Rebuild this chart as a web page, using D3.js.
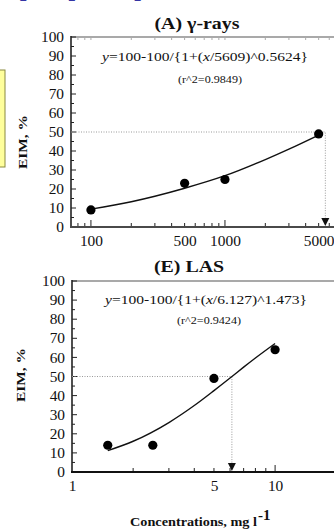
<!DOCTYPE html>
<html>
<head>
<meta charset="utf-8">
<script src="https://cdn.jsdelivr.net/npm/d3@7"></script>
<style>
  html, body { margin: 0; padding: 0; background: #fff; }
  svg { display: block; }
</style>
</head>
<body>
<svg id="chart" width="334" height="529"></svg>
<script>
// ---------- DATA ----------
// Panel A: gamma-rays
const topTitle = "(A) γ-rays";
const topX = [100, 500, 1000, 5000];
const topY = [9, 23, 25, 49];
const topFitX = [100, 200, 300, 500, 1000, 2000, 3000, 5000];
const topFitY = [9.4, 13.3, 16.2, 20.4, 27.0, 35.5, 41.0, 48.4];
const topEC50 = 5609;
const topEquation = ["y", "=100-100/{1+(", "x", "/5609)^0.5624}"];
const topR2 = "(r^2=0.9849)";
const topXTickLabels = [100, 500, 1000, 5000];
const topMinorTicks = [80, 90, 200, 300, 400, 500, 600, 700, 800, 900, 2000, 3000, 4000, 5000, 6000, 7000, 8000, 9000];
const topMajorTicks = [100, 1000];

// Panel E: LAS
const botTitle = "(E) LAS";
const botX = [1.5, 2.5, 5, 10];
const botY = [14, 14, 49, 64];
const botFitX = [1.5, 2, 3, 4, 5, 6, 7, 8, 10];
const botFitY = [11.2, 16.1, 25.9, 34.8, 42.6, 49.2, 54.9, 59.7, 67.3];
const botEC50 = 6.127;
const botEquation = ["y", "=100-100/{1+(", "x", "/6.127)^1.473}"];
const botR2 = "(r^2=0.9424)";
const botXTickLabels = [1, 5, 10];
const botMinorTicks = [2, 3, 4, 5, 6, 7, 8, 9];
const botMajorTicks = [10];

const yTickLabels = [0, 10, 20, 30, 40, 50, 60, 70, 80, 90, 100];
const yMinorTicks = [5, 15, 25, 35, 45, 55, 65, 75, 85, 95];
const yLabel = "EIM, %";
const xLabel = "Concentrations, mg l";
const xLabelSup = "-1";
const headerText = "(Input)";

// ---------- DRAW ----------
const svg = d3.select("#chart");
const SERIF = "'Liberation Serif', 'Times New Roman', serif";
const STRETCH = 1.17;

function stretch(sel, k) {
  sel.each(function () {
    const l = this.getComputedTextLength();
    this.setAttribute("textLength", l * k);
    this.setAttribute("lengthAdjust", "spacingAndGlyphs");
  });
  return sel;
}

// decorative slide fragments (cut off at the top edge, as in the source)
svg.append("text")
  .attr("x", 12).attr("y", -8)
  .attr("font-family", "'Liberation Sans', Arial, sans-serif")
  .attr("font-weight", "bold").attr("font-size", 44)
  .attr("fill", "#3434a4")
  .text(headerText);
svg.append("rect")
  .attr("x", -10).attr("y", 70).attr("width", 15).attr("height", 97)
  .attr("fill", "#ffff9c").attr("stroke", "#8a8a40").attr("stroke-width", 1);

function panel(cfg) {
  const g = svg.append("g");
  const x = d3.scaleLog().domain(cfg.xDomain).range(cfg.xRange);
  const y = d3.scaleLinear().domain([0, 100]).range(cfg.yRange);
  const x0 = cfg.xRange[0], x1 = 334;
  const yb = y(0), yt = y(100);

  // top border (gray)
  g.append("line").attr("x1", x0).attr("x2", x1).attr("y1", yt).attr("y2", yt)
    .attr("stroke", "#8c8c8c").attr("stroke-width", 1.6);
  if (cfg.topTicks) {
    g.selectAll(null).data(cfg.minor.concat(cfg.major)).enter().append("line")
      .attr("x1", d => x(d)).attr("x2", d => x(d))
      .attr("y1", yt).attr("y2", yt + 3)
      .attr("stroke", "#aaa").attr("stroke-width", 1);
  }

  // y axis
  const yAxis = d3.axisLeft(y).tickValues(yTickLabels).tickSize(0).tickPadding(7);
  const ya = g.append("g").attr("transform", `translate(${x0},0)`).call(yAxis);
  ya.select(".domain").remove();
  ya.selectAll("text").attr("font-family", SERIF).attr("font-size", 14.5).attr("fill", "#111");
  stretch(ya.selectAll("text"), 1.06);
  g.selectAll(null).data(yTickLabels).enter().append("line")
    .attr("x1", x0).attr("x2", x0 + 5).attr("y1", d => y(d)).attr("y2", d => y(d))
    .attr("stroke", "#222").attr("stroke-width", 1);
  g.selectAll(null).data(yMinorTicks).enter().append("line")
    .attr("x1", x0).attr("x2", x0 + 3).attr("y1", d => y(d)).attr("y2", d => y(d))
    .attr("stroke", "#222").attr("stroke-width", 1);
  g.append("line").attr("x1", x0).attr("x2", x0).attr("y1", yt - 1).attr("y2", yb)
    .attr("stroke", "#222").attr("stroke-width", 1.6);

  // x axis
  const xAxis = d3.axisBottom(x).tickValues(cfg.xTickLabels).tickFormat(d3.format("d"))
    .tickSize(0).tickPadding(9);
  const xa = g.append("g").attr("transform", `translate(0,${yb})`).call(xAxis);
  xa.select(".domain").remove();
  xa.selectAll("text").attr("font-family", SERIF).attr("font-size", 14.5).attr("fill", "#111");
  stretch(xa.selectAll("text"), 1.06);
  g.selectAll(null).data(cfg.minor).enter().append("line")
    .attr("x1", d => x(d)).attr("x2", d => x(d)).attr("y1", yb).attr("y2", yb - 4)
    .attr("stroke", "#222").attr("stroke-width", 1);
  g.selectAll(null).data(cfg.major).enter().append("line")
    .attr("x1", d => x(d)).attr("x2", d => x(d)).attr("y1", yb).attr("y2", yb - 7)
    .attr("stroke", "#222").attr("stroke-width", 1);
  g.append("line").attr("x1", x0 - 1).attr("x2", x1).attr("y1", yb).attr("y2", yb)
    .attr("stroke", cfg.axisColor).attr("stroke-width", 2);

  // EC50 dotted guides
  const ex = x(cfg.ec50), ey = y(50);
  g.append("path")
    .attr("d", `M${x0},${ey}H${ex}V${yb - 8}`)
    .attr("fill", "none").attr("stroke", "#9a9a9a").attr("stroke-width", 1)
    .attr("stroke-dasharray", "1,1.5");
  g.append("path")
    .attr("d", `M${ex - 4},${yb - 9}L${ex + 4},${yb - 9}L${ex},${yb - 1}Z`)
    .attr("fill", "#111");

  // fitted curve
  const line = d3.line().x(d => x(d[0])).y(d => y(d[1])).curve(d3.curveMonotoneX);
  g.append("path").datum(d3.zip(cfg.fitX, cfg.fitY))
    .attr("d", line).attr("fill", "none").attr("stroke", "#111").attr("stroke-width", 1.4);

  // points
  g.selectAll(null).data(d3.zip(cfg.px, cfg.py)).enter().append("circle")
    .attr("cx", d => x(d[0])).attr("cy", d => y(d[1])).attr("r", 4.6)
    .attr("fill", "#000");

  // title
  stretch(g.append("text").attr("x", cfg.titleX).attr("y", cfg.titleY)
    .attr("text-anchor", "middle").attr("font-family", SERIF)
    .attr("font-weight", "bold").attr("font-size", 17).attr("fill", "#111")
    .text(cfg.title), STRETCH);

  // equation
  const eq = g.append("text").attr("x", cfg.eqX).attr("y", cfg.eqY)
    .attr("font-family", SERIF).attr("font-size", 13.5).attr("fill", "#111");
  cfg.eq.forEach((s, i) => {
    eq.append("tspan").attr("font-style", (i % 2 === 0) ? "italic" : "normal").text(s);
  });
  eq.attr("textLength", cfg.eqW).attr("lengthAdjust", "spacingAndGlyphs");

  g.append("text").attr("x", cfg.r2X).attr("y", cfg.r2Y)
    .attr("text-anchor", "middle").attr("font-family", SERIF)
    .attr("font-size", 10.5).attr("fill", "#111")
    .attr("textLength", 64).attr("lengthAdjust", "spacingAndGlyphs")
    .text(cfg.r2);

  // y label
  g.append("text")
    .attr("transform", `translate(${cfg.ylX},${cfg.ylY}) rotate(-90)`)
    .attr("text-anchor", "middle").attr("font-family", SERIF)
    .attr("font-weight", "bold").attr("font-size", 13).attr("fill", "#111")
    .attr("textLength", 54).attr("lengthAdjust", "spacingAndGlyphs")
    .text(yLabel);
  return { x, y };
}

panel({
  xDomain: [71, 10000], xRange: [71, 359], yRange: [227, 37],
  px: topX, py: topY, fitX: topFitX, fitY: topFitY, ec50: topEC50,
  xTickLabels: topXTickLabels, minor: topMinorTicks, major: topMajorTicks,
  topTicks: true, axisColor: "#4a4a4a",
  title: topTitle, titleX: 197, titleY: 29,
  eq: topEquation, eqX: 102, eqY: 61, eqW: 206,
  r2: topR2, r2X: 210, r2Y: 83,
  ylX: 27, ylY: 142
});

panel({
  xDomain: [1, 30], xRange: [72, 372], yRange: [472, 281],
  px: botX, py: botY, fitX: botFitX, fitY: botFitY, ec50: botEC50,
  xTickLabels: botXTickLabels, minor: botMinorTicks, major: botMajorTicks,
  topTicks: false, axisColor: "#111",
  title: botTitle, titleX: 189, titleY: 272,
  eq: botEquation, eqX: 105, eqY: 304, eqW: 202,
  r2: botR2, r2X: 209, r2Y: 324,
  ylX: 25, ylY: 375
});

// x axis title for the bottom panel
svg.append("text").attr("x", 130).attr("y", 526)
  .attr("font-family", SERIF).attr("font-weight", "bold").attr("font-size", 13)
  .attr("fill", "#111")
  .attr("textLength", 127).attr("lengthAdjust", "spacingAndGlyphs")
  .text(xLabel);
svg.append("text").attr("x", 258).attr("y", 520)
  .attr("font-family", SERIF).attr("font-weight", "bold").attr("font-size", 15)
  .attr("fill", "#111")
  .text(xLabelSup);
</script>
</body>
</html>
